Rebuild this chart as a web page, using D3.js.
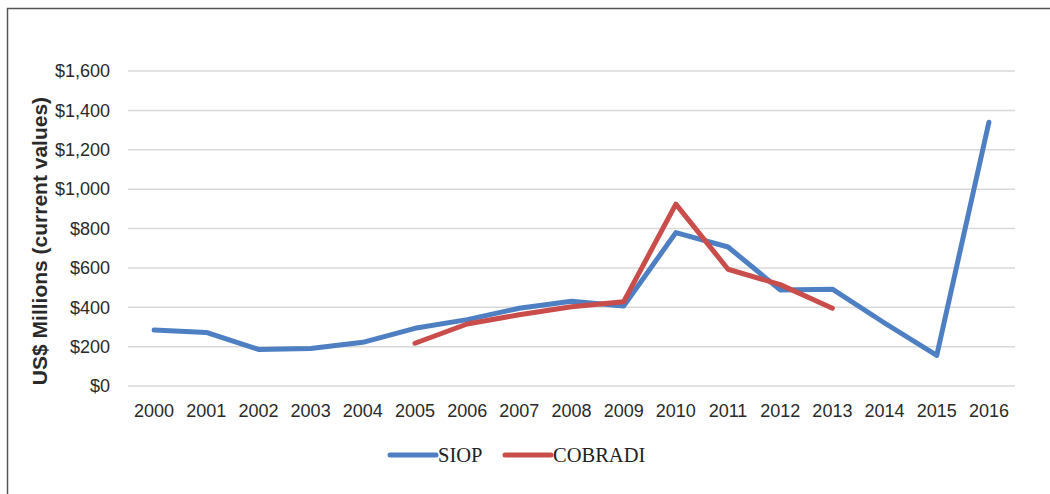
<!DOCTYPE html>
<html><head><meta charset="utf-8">
<script src="https://cdn.jsdelivr.net/npm/d3@7"></script>
<style>body{margin:0;background:#fff}svg{display:block}</style>
</head><body>
<script>
const years = ["2000","2001","2002","2003","2004","2005","2006","2007","2008","2009","2010","2011","2012","2013","2014","2015","2016"];
const siop = [284,272,186,190,222,293,337,395,430,406,779,706,488,492,320,155,1340];
const cobradiYears = ["2005","2006","2007","2008","2009","2010","2011","2012","2013"];
const cobradi = [217,315,362,403,428,924,593,515,395];
const yTicks = [0,200,400,600,800,1000,1200,1400,1600];
const seriesNames = ["SIOP","COBRADI"];
const colors = ["#4e7fc3","#c94d4b"];

const W=1050,H=494;
const svg=d3.select("body").append("svg").attr("width",W).attr("height",H);
svg.append("path").attr("d",`M7.5,${H} V8.5 H${W}`).attr("fill","none").attr("stroke","#555").attr("stroke-width",1.5);

const x=d3.scaleBand().domain(years).range([128,1015]);
const y=d3.scaleLinear().domain([0,1600]).range([386,71]);

const g=svg.append("g");
g.selectAll("line.grid").data(yTicks).join("line")
 .attr("x1",128).attr("x2",1015).attr("y1",d=>y(d)).attr("y2",d=>y(d))
 .attr("stroke","#d9d9d9").attr("stroke-width",1.5);

const yAxis=svg.append("g").attr("transform","translate(110,0)")
 .call(d3.axisLeft(y).tickValues(yTicks).tickSize(0).tickPadding(0).tickFormat(d=>"$"+d3.format(",")(d)));
yAxis.select(".domain").remove();
yAxis.selectAll("text").attr("font-family","Liberation Sans, Arial, sans-serif").attr("font-size",18).attr("fill","#2a2a2a");

const xAxis=svg.append("g").attr("transform","translate(0,386)")
 .call(d3.axisBottom(x).tickSize(0).tickPadding(18));
xAxis.select(".domain").remove();
xAxis.selectAll("text").attr("font-family","Liberation Sans, Arial, sans-serif").attr("font-size",18).attr("fill","#2a2a2a");

svg.append("text").attr("transform","translate(47,241) rotate(-90)")
 .attr("text-anchor","middle").attr("font-family","Liberation Sans, Arial, sans-serif")
 .attr("font-weight","bold").attr("font-size",21).attr("fill","#2a2a2a")
 .text("US$ Millions (current values)");

const line=d3.line().x(d=>x(d[0])+x.bandwidth()/2).y(d=>y(d[1]));
svg.append("path").datum(years.map((yr,i)=>[yr,siop[i]]))
 .attr("d",line).attr("fill","none").attr("stroke",colors[0]).attr("stroke-width",5).attr("stroke-linejoin","round").attr("stroke-linecap","round");
svg.append("path").datum(cobradiYears.map((yr,i)=>[yr,cobradi[i]]))
 .attr("d",line).attr("fill","none").attr("stroke",colors[1]).attr("stroke-width",5).attr("stroke-linejoin","round").attr("stroke-linecap","round");

const lx=[390,505];
seriesNames.forEach((n,i)=>{
  svg.append("line").attr("x1",lx[i]).attr("x2",lx[i]+46).attr("y1",455).attr("y2",455)
   .attr("stroke",colors[i]).attr("stroke-width",5).attr("stroke-linecap","round");
  svg.append("text").attr("x",lx[i]+48).attr("y",462).attr("font-family","Liberation Serif, Times New Roman, serif")
   .attr("font-size",20.5).attr("fill","#222").text(n);
});
</script>
</body></html>
